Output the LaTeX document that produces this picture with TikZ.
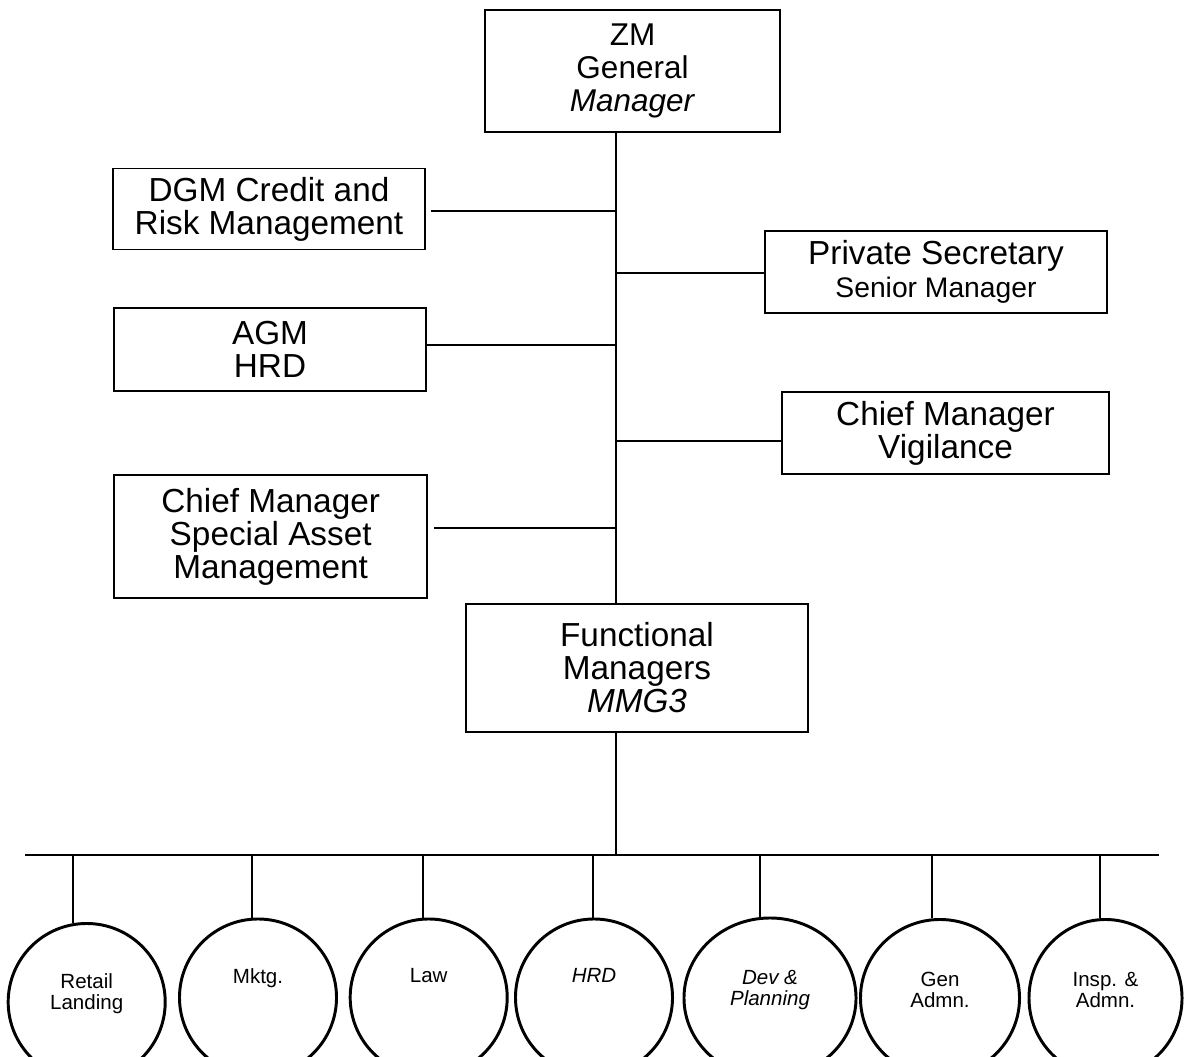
\documentclass[tikz,border=0pt]{standalone}
\usepackage{fontspec}
\setmainfont{Liberation Sans}
\usepackage{tikz}
\usetikzlibrary{shapes.geometric}

\begin{document}
\begin{tikzpicture}[x=0.025cm, y=-0.025cm]
        % Define a style for the nodes
        \tikzstyle{postbox} = [rectangle, draw, line width=1.4pt, align=center, inner sep=0pt, font=\fontsize{23.7}{23.5}\selectfont]
        \tikzstyle{unit} = [ellipse, draw, line width=2.1pt, inner sep=0pt, minimum height=3.925cm]
        \tikzstyle{unitlbl} = [align=center, yshift=0.2cm, font=\fontsize{14.6}{14.9}\selectfont]
        \tikzstyle{link} = [line width=1.4pt]

        \useasboundingbox (0,0) rectangle (1187,1056);
        \clip (0,0) rectangle (1187,1056);

        % Boxes
        \node (zm) [postbox, minimum width=7.375cm, minimum height=3.05cm, font=\fontsize{22.4}{23.5}\selectfont] at (632.5,71) {ZM\\ General\\ \textit{Manager}};
        \node (dgm) [postbox, minimum width=7.8cm, minimum height=2.025cm] at (269,209) {DGM Credit and\\ Risk Management};
        \node (agm) [postbox, minimum width=7.79cm, minimum height=2.075cm] at (270,349.5) {AGM\\ HRD};
        \node (secy) [postbox, minimum width=8.55cm, minimum height=2.05cm] at (936,272) {Private Secretary\\ {\fontsize{20.1}{23.5}\selectfont Senior Manager}};
        \node (vig) [postbox, minimum width=8.175cm, minimum height=2.05cm] at (945.5,433) {Chief Manager\\ Vigilance};
        \node (sam) [postbox, minimum width=7.81cm, minimum height=3.075cm] at (270.7,536.5) {Chief Manager\\ Special Asset\\ Management};
        \node (fm) [postbox, minimum width=8.55cm, minimum height=3.2cm] at (637,668) {Functional\\ Managers\\ \textit{MMG3}};

        % Units
        \node (retail) [unit, minimum width=3.925cm, label={[unitlbl]center:Retail\\ Landing}] at (86.7,1002) {};
        \node (mktg) [unit, minimum width=3.925cm, label={[unitlbl]center:Mktg.\\ \strut}] at (258,997.5) {};
        \node (law) [unit, minimum width=3.925cm, label={[unitlbl]center:Law\\ \strut}] at (428.7,997.5) {};
        \node (hrd) [unit, minimum width=3.925cm, label={[unitlbl]center:\textit{HRD}\\ \strut}] at (594,997.5) {};
        \node (dev) [unit, minimum width=4.3cm, minimum height=4cm, label={[unitlbl]center:\textit{Dev \&}\\ \textit{Planning}}] at (770,998) {};
        \node (gen) [unit, minimum width=3.975cm, label={[unitlbl]center:Gen\\ Admn.}] at (940,998) {};
        \node (insp) [unit, minimum width=3.825cm, label={[unitlbl]center:Insp. \&\\ Admn.}] at (1105.5,998) {};

        \coordinate (spine) at (616,400);
        \coordinate (busw) at (25,855);
        \coordinate (buse) at (1159,855);

        % Edges
        \draw [link] (zm.south -| spine) -- (fm.north -| spine);
        \draw [link] (dgm.east) ++(5,2) coordinate (dgmtap) -- (dgmtap -| spine);
        \draw [link] (agm.east) ++(0,-4.5) coordinate (agmtap) -- (agmtap -| spine);
        \draw [link] (sam.east) ++(6,-8.5) coordinate (samtap) -- (samtap -| spine);
        \draw [link] (secy.west) ++(0,0.7) coordinate (secytap) -- (secytap -| spine);
        \draw [link] (vig.west) ++(0,8) coordinate (vigtap) -- (vigtap -| spine);
        \draw [link] (fm.south -| spine) -- ++(0,5) -- (spine |- busw);
        \draw [link] (busw) -- (buse);
        \foreach \u/\a in {retail/100, mktg/94, law/94, hrd/91, dev/97, gen/96, insp/94.5}
            \draw [link] (\u.\a) -- (\u.\a |- busw);
    \end{tikzpicture}
\end{document}
